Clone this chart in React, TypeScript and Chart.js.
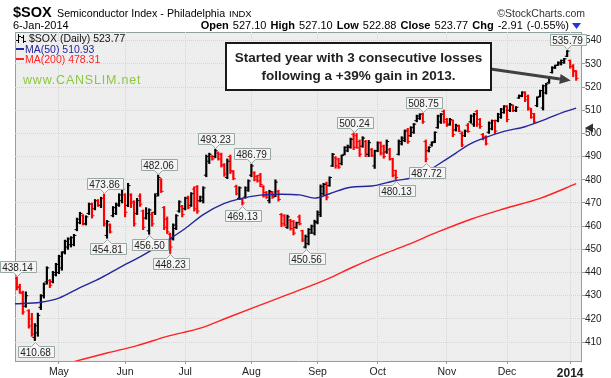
import React, { useEffect, useRef } from 'react';
import { Chart, registerables } from 'chart.js';

Chart.register(...registerables);

// ---------- data ----------
// daily bars, index 0 = mid-April 2013, index 186 = 6-Jan-2014
const OPEN = [
  437.5, 434, 431, 425.5, 423.5, 420, 412, 414, 425, 430, 436, 436.5, 436, 439, 440, 442, 449, 451, 452, 452,
  458.5, 461.5, 464.5, 461, 465.5, 469.5, 467.5, 471, 469, 472, 456, 460.5, 464.5, 465.5, 469, 471, 473.5, 469, 473.5, 470.5,
  465.5, 473, 466.5, 463.5, 458, 465, 466, 474, 480, 468, 463, 456.5, 454.5, 459, 466.5, 468.5, 467.5, 472.5, 469, 476,
  477, 471, 471, 482, 488, 490, 490, 491.5, 491, 486.5, 481, 490, 483.5, 477, 472, 471.5, 472.5, 475.5, 482, 483,
  481.5, 482, 477, 474.5, 471, 474.5, 473, 475, 465, 464.5, 459.5, 462.5, 462, 459.5, 464, 458, 451, 452.5, 457, 457,
  461.5, 465, 474, 478.5, 477.5, 486, 489.5, 489, 487, 491, 492.5, 494, 499.5, 499, 496.5, 494.5, 496.5, 491, 493, 486,
  492.5, 496, 494.5, 492, 493, 489, 484, 491, 495.5, 497, 501.5, 499, 500.5, 505.5, 506.5, 508.5, 496.5, 492.5, 495, 496.5,
  502.5, 505, 509.5, 506, 504, 505.5, 501.5, 503, 500, 499, 503.5, 505, 504, 509.5, 506, 499.5, 498.5, 500.5, 502, 505.5,
  505.5, 507, 509, 511.5, 510, 512, 509.8, 515.3, 516, 517.5, 516, 510.5, 508.5, 512, 516, 511, 517.5, 522, 526.3, 528.2,
  529.5, 530, 530.5, 533.3, 531.5, 529, 527.1,
];
const HIGH = [
  438.14, 435, 432, 431.7, 424, 422.4, 418, 422.5, 430.5, 435.5, 442.5, 437, 440.5, 444, 447.5, 449, 454, 455, 455.5, 456.5,
  463.5, 466, 465, 464.5, 470, 470, 471.5, 471.5, 472.5, 473.86, 462.5, 461, 468.5, 470, 474, 476.5, 474, 478.5, 474, 471,
  472, 474, 467, 468, 467.5, 466, 474, 482.06, 480.5, 468.5, 464, 457, 461, 465, 471, 469, 472.5, 473, 474.5, 477,
  477.5, 473, 477, 490.7, 491.5, 490.5, 493.23, 492, 491.5, 487, 489, 490.7, 484, 477.7, 477, 472, 477, 480, 486.79, 483.5,
  482, 482.8, 477.5, 475, 475.5, 475, 480, 475.5, 465.5, 465, 464.8, 463, 462.5, 461.8, 464.8, 458.3, 456.2, 459, 460.5, 462.6,
  466.6, 477.8, 478.5, 479, 481.3, 491.4, 490, 489.3, 490.7, 494.3, 495, 498, 500.24, 500, 497.2, 498.6, 497, 497, 493.6, 492.8,
  496.4, 496.4, 495, 497.2, 493.6, 489.3, 484.2, 497.2, 498.6, 501.5, 502.2, 502.9, 504.3, 507.9, 508.5, 508.75, 497.2, 494.3, 496.4, 500.7,
  507.9, 508.6, 510.1, 506.5, 506.5, 505.8, 504, 503.6, 500.7, 501.5, 504.3, 508, 508.7, 510, 506.5, 500, 499, 505, 505.8, 505.8,
  508.7, 510.8, 512, 512, 513, 512.3, 511.6, 516.6, 518, 518, 516.6, 510.8, 508.7, 515.8, 518.7, 520.9, 521.6, 524.5, 528.8, 529.5,
  530.9, 531.7, 532.4, 535.79, 531.7, 529.7, 527.1,
];
const LOW = [
  432.5, 431, 422, 425, 416, 412.5, 410.68, 412.5, 424, 429, 435, 433.5, 435.5, 438.5, 439.5, 441, 448, 450, 451, 451.5,
  458, 461, 460.5, 460.5, 465, 463.5, 467, 468.5, 468, 460, 454.81, 457, 464, 465, 468.5, 470, 464, 468.4, 468, 460,
  465, 468.5, 458.5, 463, 456.5, 460, 465, 473, 474.5, 458.5, 456.8, 448.23, 454, 458.5, 466, 464, 467, 467.5, 468.5, 466.5,
  465.5, 470.5, 470, 481.3, 487, 488.5, 489.5, 488.5, 485.5, 481.5, 480.5, 482.7, 480, 473.5, 471.5, 469.13, 472, 475, 481.3, 479.5,
  479, 477, 472.5, 472, 470, 472, 472.7, 470.8, 459.8, 460, 459, 458.3, 456.2, 459, 460.5, 453.3, 450.56, 451.9, 456.9, 456.2,
  461, 464.1, 473.4, 471.3, 477.2, 485.7, 485, 484.9, 486.4, 490.7, 492.1, 493.6, 493, 493.6, 490, 494, 490, 490, 490, 484.9,
  492.1, 490.7, 489.3, 491.4, 488.5, 481.3, 480.13, 490.7, 495, 496.4, 495.7, 498.6, 500, 505, 506, 504.3, 487.72, 492, 494.5, 496,
  502.2, 504.3, 504.4, 503, 503.5, 498.6, 501, 500.7, 494.3, 498.6, 500.5, 504.4, 503, 503, 502.2, 497.2, 495, 500, 501.5, 500,
  505, 506.5, 508.7, 505, 509.4, 509.4, 509.4, 515.1, 515.8, 513.7, 510, 506.5, 504.4, 511.5, 515.8, 510.1, 517, 521.6, 526, 528,
  529.3, 529.5, 530.2, 533.1, 528.1, 524.5, 522.88,
];
const CLOSE = [
  433.5, 431.5, 423, 430, 417, 413.5, 417, 421.5, 430, 435, 442, 434.5, 440, 443.5, 447, 448.5, 453.5, 454.5, 455, 456,
  463, 465.5, 461, 464, 469.5, 464.5, 471, 469, 472, 461, 462, 457.5, 468, 469.5, 473.5, 476, 466, 477.5, 470, 461,
  471, 469.5, 459.5, 465.5, 467, 461, 473, 481, 475, 459.5, 457.5, 451, 460.5, 464.5, 470.5, 465, 472, 468, 474, 467.5,
  466.5, 472.5, 476.5, 490, 491, 489, 492.5, 489, 486, 482.5, 488, 484, 480.5, 474, 476.5, 470, 476.5, 479.5, 486, 480,
  479.5, 478, 473, 472.5, 475, 472.5, 479, 471.5, 461, 460.5, 464, 459, 457, 461.5, 461, 454, 455.5, 458.5, 460, 462,
  466, 477, 478, 472.5, 481, 491, 486, 485.5, 490.5, 494, 494.5, 497.5, 494, 493.8, 491, 498, 491, 496, 490.5, 492.5,
  496, 491.5, 490, 496.5, 489, 482, 481, 496.5, 498, 501, 496.5, 502.5, 504, 507.5, 508.3, 505, 489, 494, 496, 500.5,
  507.5, 508.3, 505, 503.5, 506, 499.5, 503.5, 501, 495, 501, 500.8, 507.5, 508.3, 504, 503, 498, 495.5, 504.5, 505.5, 501,
  508.3, 510.5, 511.8, 506, 512.5, 510, 511.3, 516.4, 517.8, 514.5, 511, 507, 505, 515.5, 518.5, 520.5, 521.3, 524.3, 528.5, 529.3,
  530.7, 531.5, 532.2, 535.5, 528.8, 526.68, 523.77,
];

// moving averages, read at sample positions (bar index, value)
const MA50_IDX = [-1, 8, 14, 21, 28, 34, 42, 49, 56, 62, 69, 74, 81, 88, 94, 99, 104, 111, 118, 125, 134, 140, 146, 150, 156, 162, 169, 176, 182, 186];
const MA50_VAL = [426.5, 427.2, 429, 433.5, 437.7, 442, 447.5, 453, 459, 465, 469.8, 471.8, 473.4, 473.8, 473.5, 472.1, 474, 476.8, 477.3, 479.4, 481.8, 486.5, 491.5, 495, 498.3, 500.9, 502.9, 506.2, 509.3, 510.93];
const MA200_IDX = [14, 22, 30, 40, 50, 61, 70, 80, 90, 103, 112, 121, 130, 140, 151, 162, 174, 186];
const MA200_VAL = [399.8, 402.6, 405.3, 408.5, 412.5, 416, 420.5, 425.5, 430.5, 437.1, 442.5, 447.5, 452, 457.5, 463, 467.5, 472, 478.31];

// axis ticks
const MONTH_TICKS = [14, 36, 56, 78, 100, 120, 143, 163, 184];
const MONTH_LABELS = ['May', 'Jun', 'Jul', 'Aug', 'Sep', 'Oct', 'Nov', 'Dec', '2014'];
const PRICE_TICKS = [410, 420, 430, 440, 450, 460, 470, 480, 490, 500, 510, 520, 530, 540];

// swing-point labels (bar index)
const HIGH_LABEL_IDX = [0, 29, 47, 66, 78, 112, 135, 183];
const LOW_LABEL_IDX = [6, 30, 44, 51, 75, 96, 126, 136];

// ---------- styles ----------
const FONT = '"Liberation Sans", Arial, Helvetica, sans-serif';
const UP = '#000000';
const DOWN = '#ff0000';
const MA50_COLOR = '#25259c';
const MA200_COLOR = '#ff2222';
const GRID = '#d5d5d5';
const AXIS = '#8fa0a0';
const PLOT_BG = '#eeeeee';

const bgPlugin = {
  id: 'plotBg',
  beforeDraw(chart: any) {
    const { ctx, chartArea: a } = chart;
    ctx.save();
    ctx.fillStyle = '#ffffff';
    ctx.fillRect(0, 0, chart.width, chart.height);
    ctx.fillStyle = PLOT_BG;
    ctx.fillRect(a.left, a.top, a.right - a.left, a.bottom - a.top);
    ctx.strokeStyle = AXIS;
    ctx.lineWidth = 1;
    ctx.beginPath();
    ctx.moveTo(a.left + 0.5, a.bottom);
    ctx.lineTo(a.left + 0.5, a.top + 0.5);
    ctx.lineTo(a.right, a.top + 0.5);
    ctx.stroke();
    ctx.restore();
  },
};

const labelPlugin = {
  id: 'swingLabels',
  afterDraw(chart: any) {
    const { ctx, scales } = chart;
    const xs = scales.x;
    const ys = scales.y;
    ctx.save();
    ctx.font = '10px ' + FONT;
    const drawLabel = (i: number, v: number, above: boolean) => {
      const cx = Math.round(xs.getPixelForValue(i)) + 0.5;
      const py = ys.getPixelForValue(v);
      const text = v.toFixed(2);
      const w = Math.round(ctx.measureText(text).width) + 5;
      const h = 11;
      const left = Math.round(cx - w / 2) + 0.5;
      let top: number;
      let tip: number;
      ctx.beginPath();
      if (above) {
        tip = Math.round(py - 1) + 0.5;
        top = tip - 4 - h;
        const bot = top + h;
        ctx.moveTo(left, top);
        ctx.lineTo(left + w, top);
        ctx.lineTo(left + w, bot);
        ctx.lineTo(cx + 4, bot);
        ctx.lineTo(cx, tip);
        ctx.lineTo(cx - 4, bot);
        ctx.lineTo(left, bot);
      } else {
        tip = Math.round(py + 1) + 0.5;
        top = tip + 4;
        const bot = top + h;
        ctx.moveTo(left, top);
        ctx.lineTo(cx - 4, top);
        ctx.lineTo(cx, tip);
        ctx.lineTo(cx + 4, top);
        ctx.lineTo(left + w, top);
        ctx.lineTo(left + w, bot);
        ctx.lineTo(left, bot);
      }
      ctx.closePath();
      ctx.fillStyle = '#f5f5f5';
      ctx.fill();
      ctx.strokeStyle = '#98a8a4';
      ctx.lineWidth = 1;
      ctx.stroke();
      ctx.fillStyle = '#222';
      ctx.textAlign = 'center';
      ctx.textBaseline = 'alphabetic';
      ctx.fillText(text, cx, top + h - 1.5);
    };
    HIGH_LABEL_IDX.forEach((i) => drawLabel(i, HIGH[i], true));
    LOW_LABEL_IDX.forEach((i) => drawLabel(i, LOW[i], false));

    // annotation arrow (from the comment box toward the last bars)
    const x0 = xs.getPixelForValue(157.5);
    const y0 = ys.getPixelForValue(527.8);
    const x1 = xs.getPixelForValue(184.2);
    const y1 = ys.getPixelForValue(522.8);
    const ang = Math.atan2(y1 - y0, x1 - x0);
    const hl = 11;
    const hw = 5;
    const bx = x1 - hl * Math.cos(ang);
    const by = y1 - hl * Math.sin(ang);
    ctx.strokeStyle = '#404040';
    ctx.fillStyle = '#404040';
    ctx.lineWidth = 3;
    ctx.beginPath();
    ctx.moveTo(x0, y0);
    ctx.lineTo(bx, by);
    ctx.stroke();
    ctx.beginPath();
    ctx.moveTo(x1, y1);
    ctx.lineTo(bx + hw * Math.sin(ang), by - hw * Math.cos(ang));
    ctx.lineTo(bx - hw * Math.sin(ang), by + hw * Math.cos(ang));
    ctx.closePath();
    ctx.fill();

    // small marker on the price axis
    const my = ys.getPixelForValue(502.3);
    const mx = chart.chartArea.right + 4;
    ctx.fillStyle = '#303030';
    ctx.beginPath();
    ctx.moveTo(mx, my);
    ctx.lineTo(mx + 8, my - 4.5);
    ctx.lineTo(mx + 8, my + 4.5);
    ctx.closePath();
    ctx.fill();
    ctx.restore();
  },
};

function Txt(props: any) {
  const { x, b, size, bold, color, right, children, style } = props;
  const s: any = {
    position: 'absolute',
    top: b - 0.8465 * size,
    fontSize: size,
    lineHeight: size + 'px',
    fontWeight: bold ? 'bold' : 'normal',
    color: color || '#000',
    whiteSpace: 'nowrap',
    fontFamily: FONT,
    ...(style || {}),
  };
  if (right) s.right = 611 - x;
  else s.left = x;
  return <div style={s}>{children}</div>;
}

export default function App() {
  const ref = useRef<HTMLCanvasElement>(null);

  useEffect(() => {
    const canvas = ref.current;
    if (!canvas) return;
    const colors = CLOSE.map((c, i) => ((i === 0 ? c < OPEN[0] : c < CLOSE[i - 1]) ? DOWN : UP));
    const chart = new Chart(canvas, {
      type: 'scatter',
      data: {
        datasets: [
          {
            type: 'bar',
            data: HIGH.map((h, i) => ({ x: i, y: [LOW[i], h] })),
            backgroundColor: colors,
            borderWidth: 0,
            barThickness: 1.5,
            grouped: false,
            order: 3,
          } as any,
          {
            type: 'scatter',
            data: OPEN.map((o, i) => ({ x: i - 0.4, y: o })),
            pointStyle: 'line',
            pointRadius: 1.2,
            pointHoverRadius: 1.2,
            pointBorderWidth: 1,
            pointBorderColor: colors,
            pointBackgroundColor: colors,
            order: 2,
          } as any,
          {
            type: 'scatter',
            data: CLOSE.map((c, i) => ({ x: i + 0.4, y: c })),
            pointStyle: 'line',
            pointRadius: 1.2,
            pointHoverRadius: 1.2,
            pointBorderWidth: 1,
            pointBorderColor: colors,
            pointBackgroundColor: colors,
            order: 2,
          } as any,
          {
            type: 'line',
            data: MA50_IDX.map((x, k) => ({ x, y: MA50_VAL[k] })),
            borderColor: MA50_COLOR,
            borderWidth: 1.4,
            pointRadius: 0,
            cubicInterpolationMode: 'monotone',
            order: 1,
          } as any,
          {
            type: 'line',
            data: MA200_IDX.map((x, k) => ({ x, y: MA200_VAL[k] })),
            borderColor: MA200_COLOR,
            borderWidth: 1.4,
            pointRadius: 0,
            cubicInterpolationMode: 'monotone',
            order: 1,
          } as any,
        ],
      },
      options: {
        responsive: false,
        animation: false,
        devicePixelRatio: 1,
        events: [],
        layout: { padding: { left: 15, top: 32, right: 0, bottom: 0 } },
        plugins: {
          legend: { display: false },
          tooltip: { enabled: false },
          title: { display: false },
        },
        scales: {
          x: {
            type: 'linear',
            min: -0.6,
            max: 187.6,
            offset: false,
            afterBuildTicks: (s: any) => {
              s.ticks = MONTH_TICKS.map((v) => ({ value: v }));
            },
            afterFit: (s: any) => {
              s.height = 17;
            },
            ticks: {
              autoSkip: false,
              maxRotation: 0,
              minRotation: 0,
              padding: 2,
              color: '#222',
              font: (c: any) => ({
                family: FONT,
                size: c.tick && c.tick.value === 184 ? 12 : 10.5,
                weight: c.tick && c.tick.value === 184 ? 'bold' : 'normal',
              }),
              callback: (v: any) => {
                const k = MONTH_TICKS.indexOf(v);
                return k >= 0 ? MONTH_LABELS[k] : '';
              },
            },
            grid: { color: GRID, tickLength: 3, tickColor: AXIS, offset: false },
            border: { display: true, color: AXIS, dash: [1, 1] },
          },
          y: {
            type: 'linear',
            position: 'right',
            min: 401.85,
            max: 543.75,
            afterBuildTicks: (s: any) => {
              s.ticks = PRICE_TICKS.map((v) => ({ value: v }));
            },
            afterFit: (s: any) => {
              s.width = 30;
            },
            ticks: {
              padding: 0,
              color: '#222',
              font: { family: FONT, size: 10 },
              callback: (v: any) => String(v),
            },
            grid: { color: GRID, tickLength: 4, tickColor: AXIS },
            border: { display: true, color: AXIS, dash: [1, 1] },
          },
        },
      } as any,
      plugins: [bgPlugin, labelPlugin],
    });
    return () => chart.destroy();
  }, []);

  return (
    <div
      style={{
        position: 'fixed',
        left: 0,
        top: 0,
        width: 611,
        height: 378,
        overflow: 'hidden',
        background: '#fff',
        fontFamily: FONT,
      }}
    >
      <canvas
        ref={ref}
        width={611}
        height={378}
        style={{ position: 'absolute', left: 0, top: 0, width: 611, height: 378 }}
      />
      {/* header */}
      <Txt x={13} b={17} size={14.5} bold>$SOX</Txt>
      <Txt x={57} b={17} size={10.7}>Semiconductor Index - Philadelphia</Txt>
      <Txt x={229} b={17} size={9.5}>INDX</Txt>
      <Txt x={585} right b={17} size={10.5} color="#333">©StockCharts.com</Txt>
      <Txt x={13} b={29} size={11}>6-Jan-2014</Txt>
      <Txt x={569} right b={29} size={11} style={{ wordSpacing: '1px' }}>
        <b>Open</b> 527.10 <b>High</b> 527.10 <b>Low</b> 522.88 <b>Close</b> 523.77 <b>Chg</b> -2.91 (-0.55%)
      </Txt>
      <svg style={{ position: 'absolute', left: 572, top: 23 }} width={9} height={6}>
        <polygon points="0,0 9,0 4.5,6" fill="#2233dd" />
      </svg>

      {/* in-plot legend */}
      <svg style={{ position: 'absolute', left: 16, top: 34 }} width={10} height={9}>
        <line x1={2.5} y1={0} x2={2.5} y2={9} stroke="#000" strokeWidth={1} />
        <line x1={0} y1={6.5} x2={2.5} y2={6.5} stroke="#000" strokeWidth={1} />
        <line x1={2.5} y1={2.5} x2={5} y2={2.5} stroke="#000" strokeWidth={1} />
        <line x1={7.5} y1={1} x2={7.5} y2={9} stroke="#000" strokeWidth={1} />
        <line x1={5} y1={3.5} x2={7.5} y2={3.5} stroke="#000" strokeWidth={1} />
        <line x1={7.5} y1={7.5} x2={10} y2={7.5} stroke="#000" strokeWidth={1} />
      </svg>
      <Txt x={29} b={42} size={10.5} color="#111">$SOX (Daily) 523.77</Txt>
      <div style={{ position: 'absolute', left: 16, top: 48, width: 8, height: 2, background: MA50_COLOR }} />
      <Txt x={25} b={52.5} size={10.5} color={MA50_COLOR}>MA(50) 510.93</Txt>
      <div style={{ position: 'absolute', left: 16, top: 58, width: 8, height: 2, background: MA200_COLOR }} />
      <Txt x={25} b={63} size={10.5} color={MA200_COLOR}>MA(200) 478.31</Txt>
      <Txt x={23} b={85} size={12.5} color="#8cc841" style={{ letterSpacing: '0.8px' }}>www.CANSLIM.net</Txt>

      {/* comment box */}
      <div
        style={{
          position: 'absolute',
          left: 225,
          top: 42,
          width: 267,
          height: 49,
          boxSizing: 'border-box',
          border: '2px solid #1a1a1a',
          background: '#ffffff',
        }}
      />
      <Txt x={225} b={62} size={13.5} bold color="#222" style={{ width: 267, textAlign: 'center' }}>
        Started year with 3 consecutive losses
      </Txt>
      <Txt x={225} b={80} size={13.5} bold color="#222" style={{ width: 267, textAlign: 'center' }}>
        following a +39% gain in 2013.
      </Txt>
    </div>
  );
}
